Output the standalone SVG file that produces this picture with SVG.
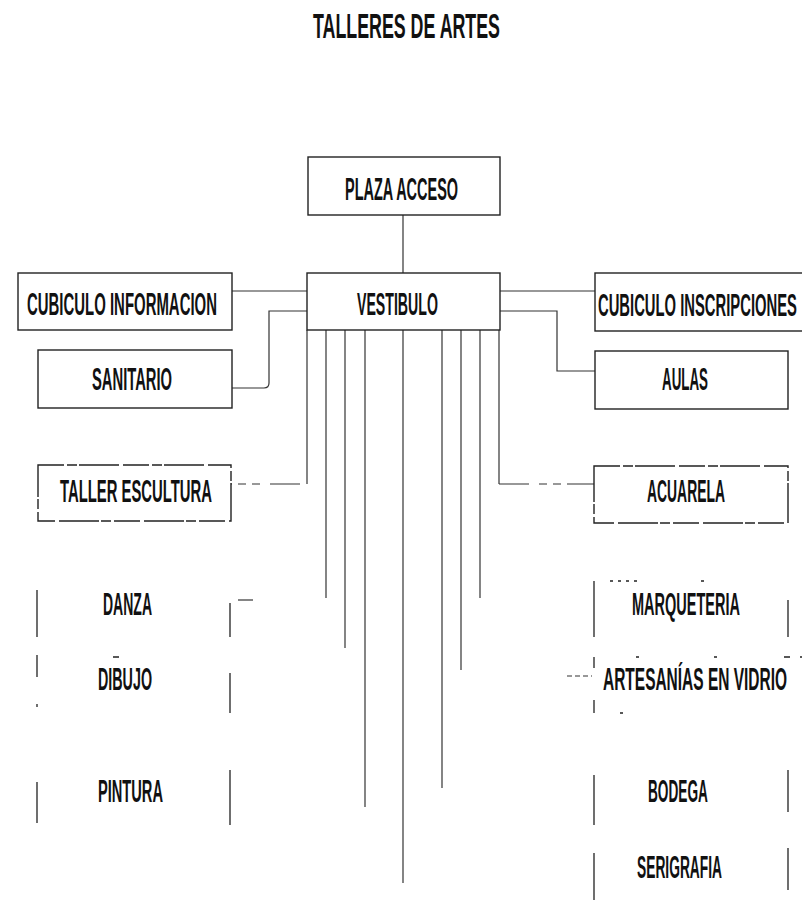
<svg xmlns="http://www.w3.org/2000/svg" width="802" height="900" viewBox="0 0 802 900">
<style>
.bg{fill:#fff}
.box{fill:none;stroke:#222;stroke-width:1.4}
.frag{fill:none;stroke:#222;stroke-width:1.3}
.dots{fill:none;stroke:#222;stroke-width:1.3;stroke-dasharray:3 5}
.brk{fill:none;stroke:#222;stroke-width:1.4;stroke-dasharray:26 3 10 2 40 4}
.t{font-family:"Liberation Sans",Arial,sans-serif;font-weight:bold;font-size:32px;fill:#111}
.title{font-family:"Liberation Sans",Arial,sans-serif;font-weight:bold;font-size:35px;fill:#111}
.c{fill:none;stroke:#333;stroke-width:1.2}
.cd{fill:none;stroke:#333;stroke-width:1.2;stroke-dasharray:30 10 8 6 8 6 40 3}
</style>
<rect class="bg" x="0" y="0" width="802" height="900"/>
<text class="title" transform="translate(313,38) scale(0.5035,1)" x="0" y="0" textLength="371.4" lengthAdjust="spacingAndGlyphs">TALLERES DE ARTES</text>

<g id="connectors">
  <path class="c" d="M403,215 V273"/>
  <path class="c" d="M232,291 H307"/>
  <path class="c" d="M307,311 H269 V383 Q269,388 264,388 H232"/>
  <path class="c" d="M500,291 H595"/>
  <path class="c" d="M500,311 H557 V371 H595"/>
  <path class="c" d="M307,330 V484"/>
  <path class="cd" d="M300,484 H231"/>
  <path class="c" d="M326,330 V598"/>
  <path class="c" d="M238,600 H253"/>
  <path class="c" d="M345,330 V648"/>
  <path class="c" d="M365,330 V807"/>
  <path class="c" d="M403,330 V883"/>
  <path class="c" d="M442,330 V788"/>
  <path class="c" d="M461,330 V670"/>
  <path class="c" d="M480,330 V598"/>
  <path class="c" d="M499,330 V484"/>
  <path class="cd" d="M499,484 H594"/>
  <path class="c" d="M567,676 H592" stroke-dasharray="5 3"/>
</g>

<g id="plaza-acceso">
  <rect class="box" x="308" y="157" width="192" height="58"/>
  <text class="t" transform="translate(345,200) scale(0.448,1)" x="0" y="0" textLength="252.4" lengthAdjust="spacingAndGlyphs">PLAZA ACCESO</text>
</g>
<g id="vestibulo">
  <rect class="box" x="307" y="273" width="193" height="57"/>
  <text class="t" transform="translate(357,315) scale(0.442,1)" x="0" y="0" textLength="183.1" lengthAdjust="spacingAndGlyphs">VESTIBULO</text>
</g>
<g id="cubiculo-informacion">
  <rect class="box" x="18" y="273" width="214" height="57"/>
  <text class="t" transform="translate(27,315) scale(0.4675,1)" x="0" y="0" textLength="406.4" lengthAdjust="spacingAndGlyphs">CUBICULO INFORMACION</text>
</g>
<g id="cubiculo-inscripciones">
  <rect class="box" x="595" y="273" width="210" height="58"/>
  <text class="t" transform="translate(598,316) scale(0.4625,1)" x="0" y="0" textLength="430.2" lengthAdjust="spacingAndGlyphs">CUBICULO INSCRIPCIONES</text>
</g>
<g id="sanitario">
  <rect class="box" x="38" y="350" width="194" height="58"/>
  <text class="t" transform="translate(92,390) scale(0.4545,1)" x="0" y="0" textLength="176" lengthAdjust="spacingAndGlyphs">SANITARIO</text>
</g>
<g id="aulas">
  <rect class="box" x="595" y="351" width="193" height="58"/>
  <text class="t" transform="translate(662,390) scale(0.4174,1)" x="0" y="0" textLength="110.2" lengthAdjust="spacingAndGlyphs">AULAS</text>
</g>
<g id="taller-escultura">
  <rect class="brk" x="38" y="465" width="193" height="56"/>
  <text class="t" transform="translate(60,502) scale(0.4573,1)" x="0" y="0" textLength="332.4" lengthAdjust="spacingAndGlyphs">TALLER ESCULTURA</text>
</g>
<g id="acuarela">
  <rect class="brk" x="594" y="466" width="194" height="57"/>
  <text class="t" transform="translate(647,502) scale(0.4345,1)" x="0" y="0" textLength="179.5" lengthAdjust="spacingAndGlyphs">ACUARELA</text>
</g>
<g id="danza">
  <path class="frag" d="M37,590 V637 M230,603 V637"/>
  <text class="t" transform="translate(103,615) scale(0.4375,1)" x="0" y="0" textLength="112" lengthAdjust="spacingAndGlyphs">DANZA</text>
</g>
<g id="dibujo">
  <path class="frag" d="M37,655 V677 M37,704 V707 M113,657 H119 M230,673 V713"/>
  <text class="t" transform="translate(98,690) scale(0.4467,1)" x="0" y="0" textLength="120.9" lengthAdjust="spacingAndGlyphs">DIBUJO</text>
</g>
<g id="pintura">
  <path class="frag" d="M37,782 V823 M230,770 V825"/>
  <text class="t" transform="translate(98,802) scale(0.457,1)" x="0" y="0" textLength="142.2" lengthAdjust="spacingAndGlyphs">PINTURA</text>
</g>
<g id="marqueteria">
  <path class="frag" d="M594,581 V637 M788,600 V637"/>
  <path class="dots" d="M610,581 H641 M701,581 H709"/>
  <text class="t" transform="translate(632,615) scale(0.4534,1)" x="0" y="0" textLength="238.2" lengthAdjust="spacingAndGlyphs">MARQUETERIA</text>
</g>
<g id="artesanias-en-vidrio">
  <path class="frag" d="M594,657 V668 M594,700 V713 M620,713 H623 M636,657 H639 M714,657 H717 M784,657 H790 M800,657 H802"/>
  <text class="t" transform="translate(603,690) scale(0.4836,1)" x="0" y="0" textLength="380.5" lengthAdjust="spacingAndGlyphs">ARTESANÍAS EN VIDRIO</text>
</g>
<g id="bodega">
  <path class="frag" d="M594,775 V825 M788,770 V812"/>
  <text class="t" transform="translate(648,802) scale(0.4273,1)" x="0" y="0" textLength="140.4" lengthAdjust="spacingAndGlyphs">BODEGA</text>
</g>
<g id="serigrafia">
  <path class="frag" d="M594,853 V900 M788,848 V890"/>
  <text class="t" transform="translate(637,878) scale(0.4308,1)" x="0" y="0" textLength="197.3" lengthAdjust="spacingAndGlyphs">SERIGRAFIA</text>
</g>
</svg>
